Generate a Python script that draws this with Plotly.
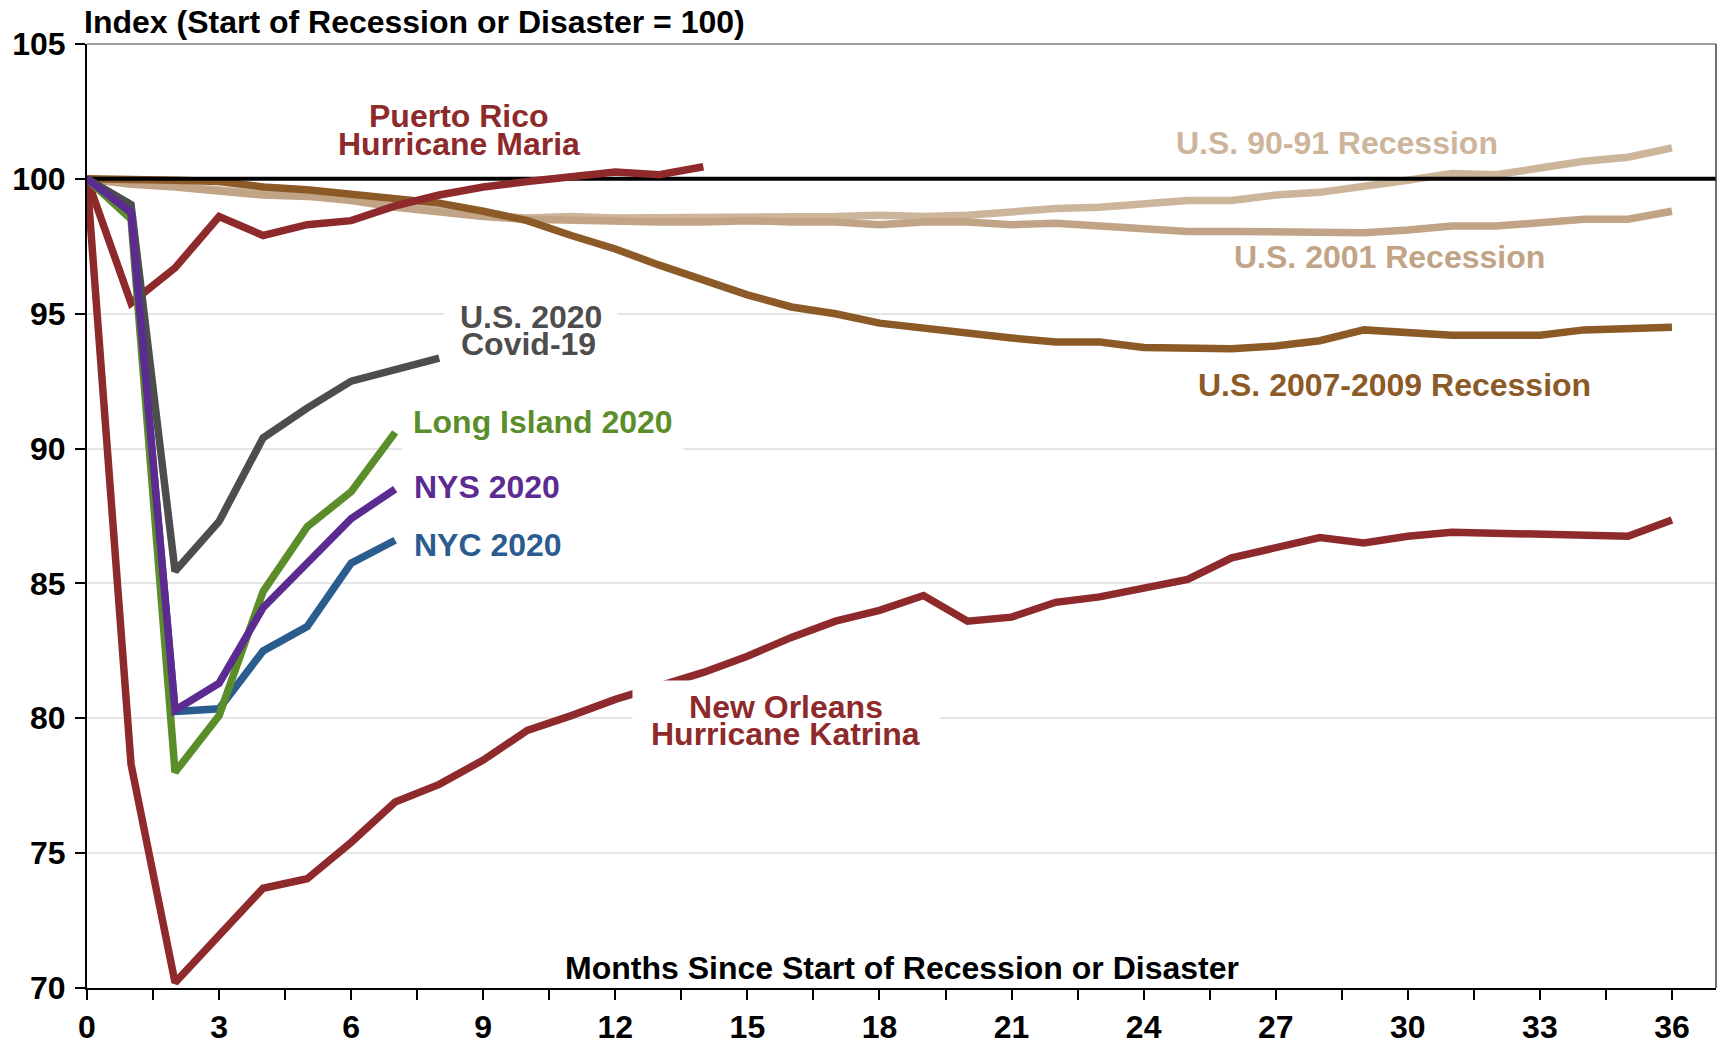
import plotly.graph_objects as go

# ---------------- data ----------------
MONTHS_37 = list(range(0, 37))
MONTHS_15 = list(range(0, 15))
MONTHS_9 = list(range(0, 9))
MONTHS_8 = list(range(0, 8))

us_90_91 = [100, 99.85, 99.75, 99.6, 99.45, 99.4, 99.25, 99.0, 98.8, 98.65, 98.55, 98.6,
            98.55, 98.55, 98.6, 98.6, 98.55, 98.6, 98.65, 98.6, 98.65, 98.8, 98.9, 98.95,
            99.05, 99.2, 99.2, 99.4, 99.5, 99.7, 99.95, 100.2, 100.15, 100.4, 100.65, 100.8, 101.15]
us_2001 = [100, 99.8, 99.7, 99.55, 99.4, 99.35, 99.2, 98.95, 98.75, 98.6, 98.5, 98.45,
           98.45, 98.4, 98.4, 98.45, 98.4, 98.4, 98.3, 98.4, 98.4, 98.3, 98.35, 98.25,
           98.1, 98.05, 98.05, 98.05, 98.05, 98.0, 98.1, 98.25, 98.25, 98.35, 98.5, 98.5, 98.8]
us_2007_2009 = [100, 100.0, 99.95, 99.9, 99.7, 99.6, 99.45, 99.3, 99.1, 98.8, 98.45, 97.9,
                97.4, 96.8, 96.25, 95.7, 95.25, 95.0, 94.65, 94.45, 94.3, 94.1, 93.95, 93.95,
                93.75, 93.75, 93.7, 93.8, 94.0, 94.4, 94.3, 94.2, 94.2, 94.2, 94.4, 94.45, 94.5]
new_orleans_katrina = [100, 78.3, 70.2, 71.9, 73.7, 74.05, 75.4, 76.9, 77.55, 78.45, 79.55, 80.1,
                       80.7, 81.2, 81.7, 82.3, 83.0, 83.6, 84.0, 84.55, 83.6, 83.75, 84.3, 84.5,
                       84.8, 85.15, 85.95, 86.3, 86.7, 86.5, 86.75, 86.9, 86.85, 86.85, 86.8, 86.75, 87.35]
puerto_rico_maria = [100, 95.4, 96.7, 98.6, 97.9, 98.3, 98.45, 99.0, 99.4, 99.7, 99.9, 100.1,
                     100.25, 100.15, 100.45]
us_2020_covid = [100, 99.05, 85.45, 87.3, 90.4, 91.5, 92.5, 92.9, 93.35]
long_island_2020 = [100, 98.5, 78.0, 80.1, 84.7, 87.1, 88.4, 90.6]
nys_2020 = [100, 98.75, 80.3, 81.3, 84.1, 85.8, 87.4, 88.5]
nyc_2020 = [100, 98.7, 80.25, 80.35, 82.5, 83.4, 85.75, 86.6]

BASE_INDEX = 100
X_RANGE = [0, 37]
Y_RANGE = [70, 105]
Y_TICKS = [70, 75, 80, 85, 90, 95, 100, 105]
X_MINOR_STEP = 1.5
X_LABEL_STEP = 3

# ---------------- styles ----------------
FONT = "Liberation Sans, Arial, Helvetica, sans-serif"
FS = 32
C_RED = "#8E2A2B"
C_BROWN = "#8C5A27"
C_TAN1 = "#CDB59C"
C_TAN2 = "#C1A386"
C_GRAY = "#4D4D4D"
C_GREEN = "#5B8E2A"
C_PURPLE = "#5B2B91"
C_BLUE = "#2B5C8F"
LW = 7.5

fig = go.Figure()


def add_line(x, y, color, width=LW):
    fig.add_trace(go.Scatter(x=x, y=y, mode="lines",
                             line=dict(color=color, width=width),
                             hoverinfo="skip", showlegend=False))


add_line(MONTHS_37, us_90_91, C_TAN1)
add_line(MONTHS_37, us_2001, C_TAN2)
add_line(MONTHS_37, us_2007_2009, C_BROWN)
# base (index = 100) reference line
add_line(X_RANGE, [BASE_INDEX, BASE_INDEX], "#000000", 4)
add_line(MONTHS_37, new_orleans_katrina, C_RED)
add_line(MONTHS_15, puerto_rico_maria, C_RED)
add_line(MONTHS_9, us_2020_covid, C_GRAY)
add_line(MONTHS_8, nyc_2020, C_BLUE)
add_line(MONTHS_8, long_island_2020, C_GREEN)
add_line(MONTHS_8, nys_2020, C_PURPLE)

anns = []


def label(text, x, y, color, xanchor="center", bg=None, pad=1, width=None, xshift=0):
    d = dict(text=text, x=x, y=y, xref="x", yref="y", xanchor=xanchor, yanchor="middle",
             showarrow=False, font=dict(family=FONT, size=FS, color=color, weight="bold"),
             borderpad=pad, xshift=xshift)
    if bg:
        d["bgcolor"] = bg
    if width:
        d["width"] = width
    anns.append(d)


label("Puerto Rico", 8.44, 102.32, C_RED)
label("Hurricane Maria", 8.44, 101.30, C_RED)
label("U.S. 90-91 Recession", 28.39, 101.34, C_TAN1)
label("U.S. 2001 Recession", 29.58, 97.11, C_TAN2)
label("U.S. 2007-2009 Recession", 29.69, 92.35, C_BROWN)
label("U.S. 2020", 8.45, 94.87, C_GRAY, xanchor="left", bg="white", pad=15, xshift=-15)
label("Covid-19", 8.45, 93.89, C_GRAY, xanchor="left")
label("Long Island 2020", 7.38, 91.0, C_GREEN, xanchor="left", bg="white", pad=10, xshift=-10)
label("NYS 2020", 7.38, 88.56, C_PURPLE, xanchor="left")
label("NYC 2020", 7.38, 86.44, C_BLUE, xanchor="left")
label("New Orleans", 15.87, 80.42, C_RED, bg="white", pad=8, width=290)
label("Hurricane Katrina", 15.87, 79.41, C_RED)

# chart title (y-axis label) and x-axis label
anns.append(dict(text="Index (Start of Recession or Disaster = 100)", xref="paper", yref="paper",
                 x=0, y=1, xanchor="left", yanchor="middle", yshift=22, xshift=-5, showarrow=False,
                 font=dict(family=FONT, size=FS, color="#000000", weight="bold")))
anns.append(dict(text="Months Since Start of Recession or Disaster", xref="paper", yref="paper",
                 x=0.5, y=0, xanchor="center", yanchor="middle", yshift=20, showarrow=False,
                 font=dict(family=FONT, size=FS, color="#000000", weight="bold")))

n_minor = int(round(36 / X_MINOR_STEP)) + 1
x_tickvals = [i * X_MINOR_STEP for i in range(n_minor)]
x_ticktext = [str(int(v)) if abs(v % X_LABEL_STEP) < 1e-9 else "" for v in x_tickvals]

fig.update_layout(
    width=1723, height=1043,
    margin=dict(l=87, r=7, t=44, b=55),
    plot_bgcolor="white", paper_bgcolor="white",
    annotations=anns,
    xaxis=dict(range=X_RANGE, tickvals=x_tickvals, ticktext=x_ticktext, automargin=False,
               ticks="outside", ticklen=10, tickwidth=1.5, tickcolor="#000000",
               showline=True, linecolor="#000000", linewidth=2, showgrid=False, zeroline=False,
               tickfont=dict(family=FONT, size=FS, color="#000000", weight="bold"),
               ticklabelstandoff=0),
    yaxis=dict(range=Y_RANGE, tickvals=Y_TICKS, ticks="outside", ticklen=10, tickwidth=1.5,
               tickcolor="#000000", showline=True, linecolor="#000000", linewidth=2,
               showgrid=True, gridcolor="#E6E6E6", gridwidth=1.5, zeroline=False, automargin=False,
               tickfont=dict(family=FONT, size=FS, color="#000000", weight="bold"),
               ticklabelstandoff=3),
    shapes=[
        dict(type="line", xref="paper", yref="paper", x0=0, x1=1, y0=1, y1=1,
             line=dict(color="#7F7F7F", width=1.5)),
        dict(type="line", xref="paper", yref="paper", x0=1, x1=1, y0=0, y1=1,
             line=dict(color="#404040", width=1.5)),
    ],
)

fig.write_html("out.html", config={"displayModeBar": False},
               post_script="document.body.style.margin='0px';document.body.style.overflow='hidden';")
